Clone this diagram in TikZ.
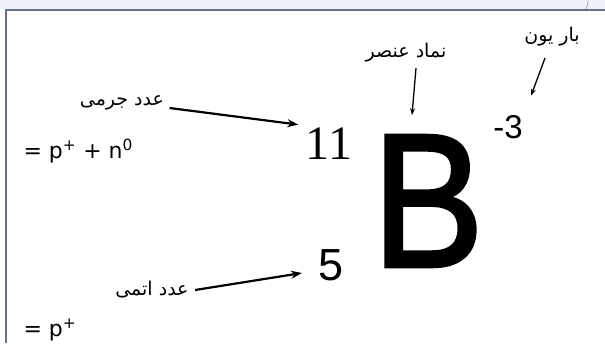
\documentclass[tikz,border=0pt]{standalone}
\usepackage{graphicx}
\usepackage{fontspec}
\setmainfont{Liberation Sans}
\newfontfamily\arabicfont[Script=Arabic]{DejaVu Sans}
\newfontfamily\seriffont{Liberation Serif}
\newfontfamily\widefont{DejaVu Sans}
\newfontfamily\heavyfont[FakeBold=2]{Liberation Sans}
\TeXXeTstate=1
\usepackage{tikz}
\usetikzlibrary{arrows.meta,positioning}
\definecolor{cFrame}{RGB}{96,116,142}
\definecolor{cStrip}{RGB}{236,242,247}

\begin{document}
\begin{tikzpicture}[x=1pt,y=-1pt,
  lbl/.style={font=\arabicfont\fontsize{19}{22}\selectfont},
  eqn/.style={font=\widefont\fontsize{22}{24}\selectfont,anchor=base west},
  arr/.style={line width=2.2pt,-{Stealth[length=11pt,width=8pt]}},
  thinarr/.style={line width=1.3pt,-{Stealth[length=7pt,width=5pt]}}]
  \useasboundingbox (0,0) rectangle (605,343);
  \fill[cStrip] (0,0) rectangle (605,9);
  \draw[cFrame,line width=2.5pt] (6,343) -- (6,10) -- (605,10);
  \draw[cFrame!60,line width=0.8pt] (588,0) to[bend left=15] (586,9);

  \node[font=\heavyfont\fontsize{190}{190}\selectfont] (bigB) at (428,201) {\scalebox{0.88}[1]{B}};
  \node[font=\seriffont\fontsize{48}{48}\selectfont] (eleven) at (329,144) {11};
  \node[font=\fontsize{45}{45}\selectfont] (five) at (331,265) {5};
  \node[font=\fontsize{33}{33}\selectfont] (charge) at (508,127) {-3};

  \node[eqn] (massEq) at (20,158) {= p\textsuperscript{+} + n\textsuperscript{0}};
  \node[eqn] (atomEq) at (20,336) {= p\textsuperscript{+}};

  \node[lbl] (massLbl) at (122,103) {\beginR عدد جرمی\endR};
  \node[lbl] (atomLbl) at (152,290) {\beginR عدد اتمی\endR};
  \node[lbl] (symLbl) at (406,53) {\beginR نماد عنصر\endR};
  \node[lbl] (ionLbl) at (552,37) {\beginR بار یون\endR};

  \draw[arr] ([xshift=2pt,yshift=-5pt]massLbl.east) -- ([xshift=-4pt]eleven.north west);
  \draw[arr] ([xshift=3pt]atomLbl.east) -- ([xshift=-13pt,yshift=-8pt]five.west);
  \draw[thinarr] ([xshift=10pt,yshift=-2pt]symLbl.south) -- ([xshift=-16pt,yshift=17pt]bigB.north);
  \draw[thinarr] ([xshift=-7pt,yshift=-8pt]ionLbl.south) -- ([xshift=23pt,yshift=16pt]charge.north);
\end{tikzpicture}
\end{document}
